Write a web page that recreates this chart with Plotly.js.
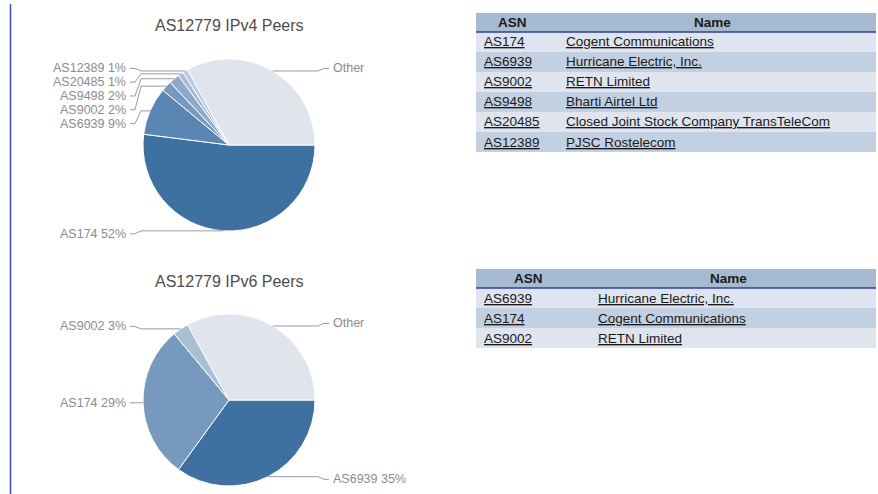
<!DOCTYPE html>
<html>
<head>
<meta charset="utf-8">
<script src="https://cdn.plot.ly/plotly-3.0.1.min.js"></script>
<style>
  body { margin: 0; background: #fff; }
  #chartHanger { width: 878px; height: 494px; }
</style>
</head>
<body>
<div id="chartHanger"></div>
<script>
// ---- data ----
const v4Labels = ["AS174", "AS6939", "AS9002", "AS9498", "AS20485", "AS12389", "Other"];
const v4Share = [52, 9, 2, 2, 1, 1, 33];
const v4Asn = ["AS174", "AS6939", "AS9002", "AS9498", "AS20485", "AS12389"];
const v4Names = [
  "Cogent Communications",
  "Hurricane Electric, Inc.",
  "RETN Limited",
  "Bharti Airtel Ltd",
  "Closed Joint Stock Company TransTeleCom",
  "PJSC Rostelecom",
];

const v6Labels = ["AS6939", "AS174", "AS9002", "Other"];
const v6Share = [35, 29, 3, 33];
const v6Asn = ["AS6939", "AS174", "AS9002"];
const v6Names = ["Hurricane Electric, Inc.", "Cogent Communications", "RETN Limited"];

const tableHeaders = ["ASN", "Name"];

// ---- styles ----
const v4Colors = ["#3f71a0", "#5a86b4", "#7799c0", "#8eaacb", "#a6bbd6", "#bccbdf", "#dfe4ed"];
const v6Colors = ["#3f71a0", "#7899be", "#a9bfd4", "#dfe4ed"];
const FONT = "Liberation Sans, Arial, Helvetica, sans-serif";
const W = 878, H = 494;
const fx = (x) => x / W;
const fy = (y) => 1 - y / H;

// pie geometry (pixels)
const R = 86;
const PIE_X = 229;
const V4_CY = 145;
const V6_CY = 400;

const annotations = [];
const shapes = [];

const pieTrace = (labels, share, colors, cy) => ({
  type: "pie",
  labels: labels,
  values: share,
  sort: false,
  direction: "clockwise",
  rotation: 90,
  textinfo: "none",
  hoverinfo: "none",
  showlegend: false,
  marker: { colors: colors, line: { color: "#ffffff", width: 1 } },
  domain: {
    x: [fx(PIE_X - R), fx(PIE_X + R)],
    y: [fy(cy + R), fy(cy - R)],
  },
});

// google-style outside labels with leader lines
const addPieLabels = (labels, share, cy, title) => {
  annotations.push({
    xref: "paper", yref: "paper",
    x: fx(PIE_X), y: fy(cy - R - 33),
    xanchor: "center", yanchor: "middle",
    text: title, showarrow: false,
    font: { family: FONT, size: 16, color: "#4d4d4d" },
  });
  const total = share.reduce((a, b) => a + b, 0);
  let acc = 0;
  const left = [], right = [];
  share.forEach((v, i) => {
    const mid = (acc + v / 2) / total;
    acc += v;
    const ang = Math.PI / 2 + mid * 2 * Math.PI;
    const p = {
      x: PIE_X + R * Math.sin(ang),
      y: cy - R * Math.cos(ang),
      seed: cy - (R + 3) * Math.cos(ang),
      text: labels[i] === "Other" ? "Other" : labels[i] + " " + Math.round((v / total) * 100) + "%",
    };
    (p.x < PIE_X ? left : right).push(p);
  });
  [left, right].forEach((side, s) => {
    side.sort((a, b) => a.seed - b.seed);
    let prev = -Infinity;
    const sign = s === 0 ? -1 : 1;
    const lx = PIE_X + sign * (R + (s === 0 ? 15 : 16));
    side.forEach((p) => {
      p.ly = Math.max(p.seed, prev + 13.8);
      prev = p.ly;
      annotations.push({
        xref: "paper", yref: "paper",
        x: fx(lx), y: fy(p.ly),
        xanchor: s === 0 ? "right" : "left", yanchor: "middle",
        text: p.text, showarrow: false,
        font: { family: FONT, size: 12.5, color: "#8c8c8c" },
      });
      const pts = [
        [lx - sign * 2, p.ly],
        [lx - sign * 7, p.ly],
        [lx - sign * 13, p.y],
        [p.x, p.y],
      ];
      shapes.push({
        type: "path", xref: "paper", yref: "paper",
        path: pts.map((q, k) => (k ? "L" : "M") + fx(q[0]) + "," + fy(q[1])).join(" "),
        line: { color: "#9a9a9a", width: 1 },
      });
    });
  });
};

const link = (t) => '<span style="text-decoration:underline">' + t + "</span>";

// table drawn on its own hidden axes: x in table units, y in row units
const TABLE_W = 400;
const HEAD = 0.95;
const addTable = (n, asn, names, top, col1) => {
  const xa = "xaxis" + n, ya = "yaxis" + n;
  const bottom = top + 19 + 20 * asn.length;
  layout[xa] = {
    domain: [fx(476), fx(876)], range: [0, TABLE_W], visible: false,
    anchor: "y" + n, fixedrange: true,
  };
  layout[ya] = {
    domain: [fy(bottom), fy(top)], range: [asn.length, -HEAD], visible: false,
    anchor: "x" + n, fixedrange: true,
  };
  const yEdges = [-HEAD].concat(asn.map((_, i) => i), [asn.length]);
  const z = [[2, 2]].concat(asn.map((_, i) => [i % 2, i % 2]));
  dataToChart.push({
    type: "heatmap",
    xaxis: "x" + n, yaxis: "y" + n,
    x: [0, col1, TABLE_W],
    y: yEdges,
    z: z,
    zmin: 0, zmax: 2,
    colorscale: [[0, "#dfe4ee"], [0.5, "#c3d0e2"], [1, "#a6bbd2"]],
    showscale: false,
    hoverinfo: "skip",
  });
  // header labels, centred over the cell text
  [(col1 - 10) / 2, (col1 + TABLE_W - 10) / 2].forEach((cx, c) => {
    annotations.push({
      xref: "x" + n, yref: "y" + n, x: cx, y: -HEAD / 2,
      xanchor: "center", yanchor: "middle", showarrow: false,
      text: "<b>" + tableHeaders[c] + "</b>",
      font: { family: FONT, size: 13.5, color: "#1a1a1a" },
    });
  });
  // body cells
  asn.forEach((a, i) => {
    [[6, a], [col1 + 6, names[i]]].forEach(([x, t]) => {
      annotations.push({
        xref: "x" + n, yref: "y" + n, x: x, y: i + 0.5,
        xanchor: "left", yanchor: "middle", showarrow: false,
        text: link(t),
        font: { family: FONT, size: 13.5, color: "#1a1a1a" },
      });
    });
  });
  // dark rule under the header
  shapes.push({
    type: "line", xref: "x" + n, yref: "y" + n,
    x0: 0, x1: TABLE_W, y0: 0, y1: 0,
    line: { color: "#2f3f9e", width: 1.5 },
  });
};

const dataToChart = [
  pieTrace(v4Labels, v4Share, v4Colors, V4_CY),
  pieTrace(v6Labels, v6Share, v6Colors, V6_CY),
];

const layout = {
  width: W,
  height: H,
  margin: { l: 0, r: 0, t: 0, b: 0 },
  paper_bgcolor: "#ffffff",
  plot_bgcolor: "#ffffff",
  showlegend: false,
};

addPieLabels(v4Labels, v4Share, V4_CY, "AS12779 IPv4 Peers");
addPieLabels(v6Labels, v6Share, V6_CY, "AS12779 IPv6 Peers");
addTable(2, v4Asn, v4Names, 13, 82);
addTable(3, v6Asn, v6Names, 269, 114);

// page decoration: left rule
shapes.push({
  type: "line", xref: "paper", yref: "paper",
  x0: fx(10.5), x1: fx(10.5), y0: fy(4), y1: fy(494),
  line: { color: "#3a4fc6", width: 1.5 },
});

layout.annotations = annotations;
layout.shapes = shapes;

Plotly.newPlot(document.getElementById("chartHanger"), dataToChart, layout, {
  displayModeBar: false,
  staticPlot: true,
});
</script>
</body>
</html>
